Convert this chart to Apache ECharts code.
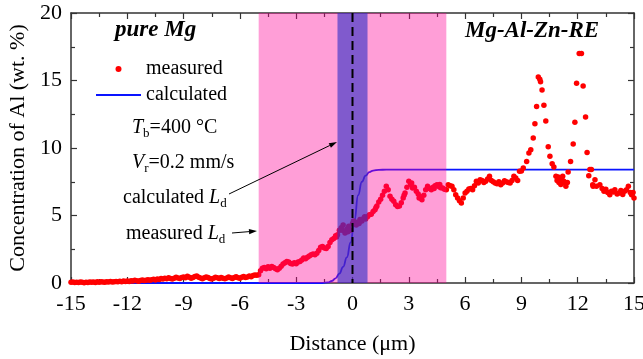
<!DOCTYPE html>
<html><head><meta charset="utf-8">
<script src="https://cdn.jsdelivr.net/npm/echarts@6/dist/echarts.min.js"></script>
<style>html,body{margin:0;padding:0;background:#fff}#c{width:643px;height:359px}</style>
</head><body><div id="c"></div>
<script>
// ---- data ----
const xRange = [-15, 15];
const yRange = [0, 20];
const bands = [[-5, 5], [-0.8, 0.8]];   // pink diffusion zone, purple calculated zone
const interfaceX = [0];

const measured = [
[-15.0,0.05],[-14.9,0.08],[-14.8,0.04],[-14.7,0.06],[-14.6,0.03],[-14.5,0.07],[-14.4,0.05],[-14.3,0.02],[-14.2,0.06],[-14.1,0.04],
[-14.0,0.08],[-13.9,0.05],[-13.8,0.07],[-13.7,0.04],[-13.6,0.09],[-13.5,0.06],[-13.4,0.10],[-13.3,0.07],[-13.2,0.05],[-13.1,0.09],
[-13.0,0.08],[-12.9,0.11],[-12.8,0.07],[-12.7,0.10],[-12.6,0.12],[-12.5,0.09],[-12.4,0.13],[-12.3,0.10],[-12.2,0.14],[-12.1,0.12],
[-12.0,0.15],[-11.9,0.12],[-11.8,0.17],[-11.7,0.14],[-11.6,0.20],[-11.5,0.16],[-11.4,0.13],[-11.3,0.19],[-11.2,0.22],[-11.1,0.18],
[-11.0,0.21],[-10.9,0.25],[-10.8,0.20],[-10.7,0.24],[-10.6,0.28],[-10.5,0.23],[-10.4,0.30],[-10.3,0.26],[-10.2,0.33],[-10.1,0.29],
[-10.0,0.35],[-9.9,0.31],[-9.8,0.38],[-9.7,0.34],[-9.6,0.30],[-9.5,0.36],[-9.4,0.42],[-9.3,0.37],[-9.2,0.33],[-9.1,0.40],
[-9.0,0.45],[-8.9,0.38],[-8.8,0.50],[-8.7,0.42],[-8.6,0.35],[-8.5,0.40],[-8.4,0.48],[-8.3,0.52],[-8.2,0.43],[-8.1,0.37],
[-8.0,0.32],[-7.9,0.38],[-7.8,0.45],[-7.7,0.40],[-7.6,0.34],[-7.5,0.30],[-7.4,0.36],[-7.3,0.42],[-7.2,0.38],[-7.1,0.33],
[-7.0,0.40],[-6.9,0.35],[-6.8,0.31],[-6.7,0.37],[-6.6,0.44],[-6.5,0.39],[-6.4,0.34],[-6.3,0.41],[-6.2,0.46],[-6.1,0.38],
[-6.0,0.35],[-5.9,0.42],[-5.8,0.48],[-5.7,0.40],[-5.6,0.45],[-5.5,0.52],[-5.4,0.47],[-5.3,0.55],[-5.2,0.60],[-5.1,0.58],
[-5.0,0.62],[-4.9,0.90],[-4.8,1.10],[-4.7,1.15],[-4.6,1.05],[-4.5,1.20],[-4.4,1.10],[-4.3,1.22],[-4.2,1.15],[-4.1,1.05],
[-4.0,0.98],[-3.9,1.10],[-3.8,1.25],[-3.7,1.40],[-3.6,1.50],[-3.5,1.60],[-3.4,1.55],[-3.3,1.45],[-3.2,1.40],[-3.1,1.50],
[-3.0,1.43],[-2.9,1.55],[-2.8,1.60],[-2.7,1.70],[-2.6,1.85],[-2.5,1.80],[-2.4,1.90],[-2.3,2.00],[-2.2,2.10],[-2.1,2.15],
[-2.0,2.10],[-1.9,2.20],[-1.8,2.40],[-1.7,2.65],[-1.6,2.70],[-1.5,2.60],[-1.4,2.55],[-1.3,2.70],[-1.2,3.00],[-1.1,3.20],
[-1.0,3.30],[-0.9,3.50],[-0.8,3.58],[-0.7,3.90],[-0.6,4.10],[-0.5,4.30],[-0.4,3.70],[-0.3,4.00],[-0.2,4.20],[-0.1,3.90],
[0.0,4.40],[0.1,4.56],[0.2,4.30],[0.3,4.50],[0.4,4.70],[0.5,4.60],[0.6,4.80],[0.7,4.75],[0.8,4.90],[0.9,5.06],
[1.0,5.10],[1.1,5.30],[1.2,5.43],[1.3,5.70],[1.4,6.00],[1.5,6.20],[1.6,6.50],[1.7,6.80],[1.8,7.16],[1.9,6.90],
[2.0,6.42],[2.1,6.20],[2.2,6.05],[2.3,5.80],[2.4,5.67],[2.5,5.70],[2.6,5.94],[2.7,6.30],[2.8,6.67],[2.9,7.10],
[3.0,7.53],[3.1,7.30],[3.2,7.03],[3.3,7.10],[3.4,6.79],[3.5,6.60],[3.6,6.40],[3.7,6.17],[3.8,6.50],[3.9,6.90],
[4.0,7.16],[4.1,7.00],[4.2,6.91],[4.3,7.10],[4.4,7.20],[4.5,7.28],[4.6,7.15],[4.7,7.05],[4.8,7.03],[4.9,6.95],
[5.0,6.90],[5.1,7.28],[5.2,7.20],[5.3,7.16],[5.4,6.90],[5.5,6.54],[5.6,6.30],[5.7,6.10],[5.8,5.93],[5.9,6.30],
[6.0,6.67],[6.1,6.80],[6.2,6.96],[6.3,7.00],[6.4,6.90],[6.5,7.20],[6.6,7.53],[6.7,7.40],[6.8,7.65],[6.9,7.60],
[7.0,7.45],[7.1,7.53],[7.2,7.70],[7.3,7.90],[7.4,7.60],[7.5,7.50],[7.6,7.41],[7.7,7.35],[7.8,7.50],[7.9,7.28],
[8.0,7.40],[8.1,7.58],[8.2,7.50],[8.3,7.45],[8.4,7.41],[8.5,7.60],[8.6,7.90],[8.7,7.78],[8.8,7.60],[8.9,8.27],
[9.0,8.30],[9.1,8.52],[9.28,9.00],[9.4,9.63],[9.5,9.87],[9.63,10.74],[9.72,11.80],[9.81,13.08],[9.9,15.26],[10.02,14.90],
[10.1,14.30],[10.2,13.16],[10.3,12.00],[10.43,10.10],[10.52,9.38],[10.64,8.84],[10.73,8.59],[10.84,7.90],[10.96,7.85],[11.05,7.65],
[11.26,7.53],[11.37,7.16],[11.49,8.22],[11.62,9.00],[11.76,10.30],[11.85,11.90],[11.94,14.80],[12.08,17.00],[12.2,17.00],[12.29,14.60],
[12.42,12.30],[12.5,9.67],[12.59,7.95],[12.65,8.40],[12.73,8.40],[12.8,7.28],[12.82,7.16],[12.92,7.65],[13.0,7.16],[13.18,7.28],
[13.3,7.00],[13.4,6.79],[13.5,6.95],[13.6,6.70],[13.71,6.54],[13.8,6.80],[13.9,6.75],[13.98,6.91],[14.1,6.60],[14.2,6.67],
[14.3,6.85],[14.4,6.55],[14.5,6.79],[14.6,6.90],[14.7,7.16],[14.8,6.70],[14.87,6.54],[14.95,6.70],[15.0,6.30],
[10.9,7.60],[11.0,7.45],[11.1,7.30],[11.15,7.70],[11.2,7.90],[11.3,7.40],[11.45,7.45],[9.98,15.10],
[2.75,6.50],[3.15,7.40],[3.55,6.30],[4.05,7.05],[4.35,7.00],[4.65,7.30],[0.05,4.60],[-0.25,3.80],[-0.55,3.90],[-0.85,3.40],
[0.35,4.40],[0.65,4.90],[1.25,5.60]
];

const calcX = [-15,-1.6,-1.3,-1.1,-0.9,-0.7,-0.5,-0.3,-0.1,0.1,0.3,0.5,0.7,0.9,1.1,1.4,1.8,15];
const calcY = [0,0,0.05,0.15,0.35,0.7,1.2,1.9,3.0,4.6,6.5,7.5,7.95,8.22,8.33,8.38,8.4,8.4];

// ---- chart ----
const FONT = 'Liberation Serif';
const bandColors = ['rgba(255,0,150,0.38)', 'rgba(43,45,198,0.6)'];
const chart = echarts.init(document.getElementById('c'), null, {renderer: 'canvas'});

function arrow(x1, y1, x2, y2) {
  const a = Math.atan2(y2 - y1, x2 - x1), L = 8, W = 2.6;
  const bx = x2 - L * Math.cos(a), by = y2 - L * Math.sin(a);
  return [
    {type: 'line', shape: {x1, y1, x2: bx, y2: by}, style: {stroke: '#000', lineWidth: 1}, z: 100},
    {type: 'polygon', shape: {points: [[x2, y2], [bx + W * Math.sin(a), by - W * Math.cos(a)], [bx - W * Math.sin(a), by + W * Math.cos(a)]]},
     style: {fill: '#000'}, z: 100}
  ];
}

const baseText = {fontFamily: FONT, fontSize: 20, fill: '#000', verticalAlign: 'middle', align: 'left'};
const rich = {
  n: {fontFamily: FONT, fontSize: 20, lineHeight: 24, verticalAlign: 'middle', fill: '#000'},
  i: {fontFamily: FONT, fontSize: 20, fontStyle: 'italic', lineHeight: 24, verticalAlign: 'middle', fill: '#000'},
  s: {fontFamily: FONT, fontSize: 13, lineHeight: 13, verticalAlign: 'bottom', fill: '#000'}
};

const xAxisCommon = {
  type: 'value', min: xRange[0], max: xRange[1], interval: 3,
  axisLine: {show: true, onZero: false, lineStyle: {color: '#333', width: 1.5}},
  axisTick: {show: true, inside: true, length: 6, lineStyle: {color: '#333', width: 1.2}},
  minorTick: {show: true, splitNumber: 2, length: 4, lineStyle: {color: '#333', width: 1.2}},
  splitLine: {show: false}
};
const yAxisCommon = {
  type: 'value', min: yRange[0], max: yRange[1], interval: 5,
  axisLine: {show: true, onZero: false, lineStyle: {color: '#333', width: 1.5}},
  axisTick: {show: true, inside: true, length: 6, lineStyle: {color: '#333', width: 1.2}},
  minorTick: {show: true, splitNumber: 2, length: 4, lineStyle: {color: '#333', width: 1.2}},
  splitLine: {show: false}
};

chart.setOption({
  animation: false,
  backgroundColor: '#fff',
  grid: {left: 71, right: 9, top: 13, bottom: 76, containLabel: false, outerBoundsMode: 'none'},
  xAxis: [
    Object.assign({}, xAxisCommon, {
      position: 'bottom',
      axisLabel: {fontFamily: FONT, fontSize: 22, color: '#000', margin: 10},
      name: 'Distance (\u03bcm)', nameLocation: 'middle', nameGap: 50,
      nameTextStyle: {fontFamily: FONT, fontSize: 22, color: '#000'}
    }),
    Object.assign({}, xAxisCommon, {position: 'top', axisLabel: {show: false}})
  ],
  yAxis: [
    Object.assign({}, yAxisCommon, {
      position: 'left',
      axisLabel: {fontFamily: FONT, fontSize: 22, color: '#000', margin: 9},
      name: 'Concentration of Al (wt. %)', nameLocation: 'middle', nameGap: 27,
      nameTextStyle: {fontFamily: FONT, fontSize: 22, color: '#000'}
    }),
    Object.assign({}, yAxisCommon, {position: 'right', axisLabel: {show: false}})
  ],
  legend: {
    orient: 'vertical', left: 95, top: 59, padding: 0, itemWidth: 45, itemHeight: 6, itemGap: 6,
    selectedMode: false,
    textStyle: {fontFamily: FONT, fontSize: 20, color: '#000'},
    data: [{name: 'measured', icon: 'circle'}, {name: 'calculated', itemStyle: {opacity: 0}}]
  },
  series: [
    {
      name: 'calculated', type: 'line', z: 2,
      data: calcX.map((x, i) => [x, calcY[i]]),
      smooth: true, smoothMonotone: 'x', symbol: 'none', showSymbol: false,
      lineStyle: {color: '#0a14ff', width: 1.8}, itemStyle: {color: '#0a14ff'}
    },
    {
      name: 'measured', type: 'scatter', z: 3,
      data: measured, symbolSize: 5.5,
      itemStyle: {color: '#ff0000', opacity: 1}
    },
    {
      name: 'bands', type: 'custom', z: 4, silent: true,
      data: bands,
      encode: {x: [0, 1]},
      renderItem: function (params, api) {
        const p0 = api.coord([api.value(0), yRange[1]]);
        const p1 = api.coord([api.value(1), yRange[0]]);
        return {type: 'rect', shape: {x: p0[0], y: p0[1], width: p1[0] - p0[0], height: p1[1] - p0[1]},
                style: {fill: bandColors[params.dataIndex]}};
      }
    },
    {
      name: 'interface', type: 'custom', z: 5, silent: true,
      data: interfaceX.map(v => [v]),
      encode: {x: 0},
      renderItem: function (params, api) {
        const p0 = api.coord([api.value(0), yRange[1]]);
        const p1 = api.coord([api.value(0), yRange[0]]);
        return {type: 'line', shape: {x1: p0[0], y1: p0[1], x2: p1[0], y2: p1[1]},
                style: {stroke: '#000', lineWidth: 2, lineDash: [9, 5]}};
      }
    }
  ],
  graphic: [
    {type: 'text', x: 115, y: 30, style: Object.assign({}, baseText, {text: 'pure Mg', fontSize: 23, fontWeight: 'bold', fontStyle: 'italic'}), z: 100},
    {type: 'text', x: 465, y: 31, style: Object.assign({}, baseText, {text: 'Mg-Al-Zn-RE', fontSize: 23, fontWeight: 'bold', fontStyle: 'italic'}), z: 100},
    {type: 'text', x: 132, y: 128, style: Object.assign({}, baseText, {text: '{i|T}{s|b}{n|=400 \u00b0C}', rich}), z: 100},
    {type: 'text', x: 132, y: 163, style: Object.assign({}, baseText, {text: '{i|V}{s|r}{n|=0.2 mm/s}', rich}), z: 100},
    {type: 'text', x: 123, y: 198, style: Object.assign({}, baseText, {text: '{n|calculated }{i|L}{s|d}', rich}), z: 100},
    {type: 'text', x: 126, y: 234, style: Object.assign({}, baseText, {text: '{n|measured }{i|L}{s|d}', rich}), z: 100},
    ...arrow(229, 194, 337, 142),
    ...arrow(232, 233, 257, 231)
  ]
});
</script>
</body></html>
